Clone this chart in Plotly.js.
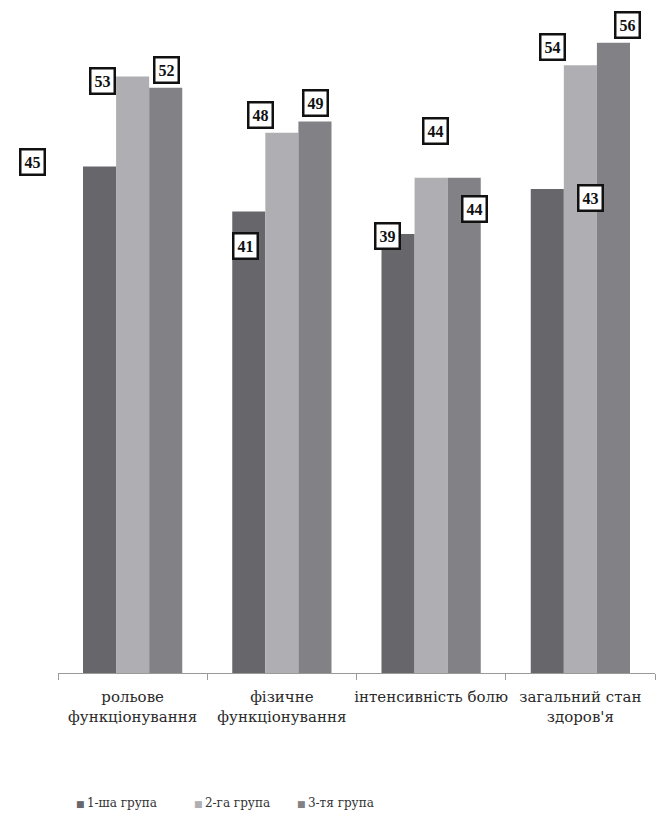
<!DOCTYPE html>
<html>
<head>
<meta charset="utf-8">
<script src="https://cdn.plot.ly/plotly-3.0.1.min.js"></script>
<style>
  html, body { margin: 0; padding: 0; background: #ffffff; }
  #chart { width: 659px; height: 815px; }
</style>
</head>
<body>
<div id="chart"></div>
<script>
// Categories (quality-of-life scales) and group scores
const categories = [
  "рольове<br>функціонування",
  "фізичне<br>функціонування",
  "інтенсивність болю",
  "загальний стан<br>здоров'я"
];
const seriesNames = ["1-ша група", "2-га група", "3-тя група"];
const group1 = [45, 41, 39, 43];
const group2 = [53, 48, 44, 54];
const group3 = [52, 49, 44, 56];

// Bar fills for the three groups
const colors = ["#67666b", "#afafb3", "#828186"];

const SERIF = "Liberation Serif";
const WIDE_SERIF = "DejaVu Serif";

// Pixel offsets of each value box relative to the top-centre of its bar
const labelShift = [
  [[-67, 5], [-3, -34], [-11, -2], [43, -9]],
  [[-30, -4], [-21, 18], [4, 47], [-28, 18]],
  [[1, 18], [1, 19], [10, -31], [14, 18]]
];

const seriesValues = [group1, group2, group3];
const barOffset = [-33, 0, 33];

const traces = seriesValues.map((vals, s) => ({
  type: "bar",
  name: seriesNames[s],
  x: categories,
  y: vals,
  marker: { color: colors[s], line: { width: 0 } },
  showlegend: false,
  hoverinfo: "skip"
}));

const annotations = [];
seriesValues.forEach((vals, s) => {
  vals.forEach((v, i) => {
    annotations.push({
      x: categories[i],
      y: v,
      xref: "x",
      yref: "y",
      text: "<b>" + v + "</b>",
      showarrow: false,
      xshift: barOffset[s] + labelShift[s][i][0],
      yshift: labelShift[s][i][1],
      xanchor: "center",
      yanchor: "middle",
      font: { family: SERIF, size: 16, color: "#111111" },
      bgcolor: "#ffffff",
      bordercolor: "#111111",
      borderwidth: 2.5,
      borderpad: 3
    });
  });
});

// Legend row: a small coloured square followed by the group name
const legendX = [74, 192, 295];
seriesNames.forEach((name, s) => {
  annotations.push({
    xref: "paper",
    yref: "paper",
    x: (legendX[s] - 58) / 597,
    y: (673 - 803) / 673,
    xanchor: "left",
    yanchor: "middle",
    showarrow: false,
    text: "<span style='color:" + colors[s] + ";font-size:9px'>■</span>\u2009" + name,
    font: { family: WIDE_SERIF, size: 12, color: "#333333" }
  });
});

const layout = {
  width: 659,
  height: 815,
  margin: { l: 58, r: 4, t: 0, b: 142 },
  paper_bgcolor: "#ffffff",
  plot_bgcolor: "#ffffff",
  barmode: "group",
  bargap: 0.335,
  bargroupgap: 0,
  showlegend: false,
  xaxis: {
    type: "category",
    range: [-0.5, 3.5],
    showline: true,
    linecolor: "#9a9a9a",
    linewidth: 1,
    ticks: "outside",
    tickson: "boundaries",
    ticklen: 6,
    tickcolor: "#9a9a9a",
    tickangle: 0,
    ticklabelstandoff: 10,
    tickfont: { family: WIDE_SERIF, size: 15, color: "#2a2a2a" },
    showgrid: false,
    zeroline: false
  },
  yaxis: {
    range: [0, 59.8],
    visible: false,
    showgrid: false,
    zeroline: false
  },
  annotations: annotations
};

Plotly.newPlot("chart", traces, layout, { displayModeBar: false, staticPlot: true });
</script>
</body>
</html>
